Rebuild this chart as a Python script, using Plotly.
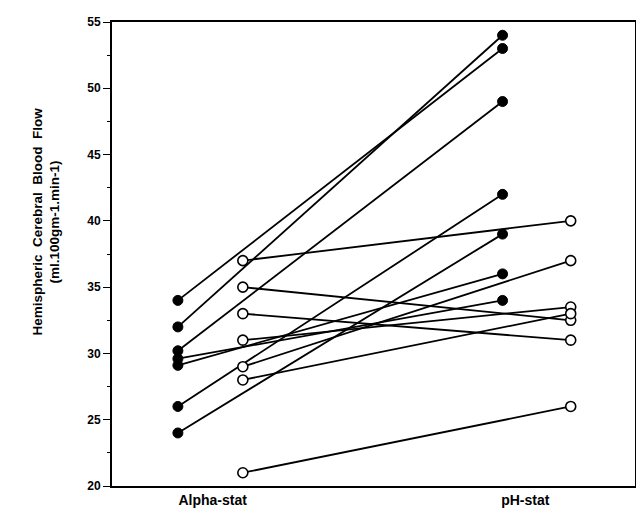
import plotly.graph_objects as go

# Data
filled_alpha = [34, 32, 30.2, 29.6, 29.1, 26, 24]
filled_ph = [53, 54, 49, 34, 36, 42, 39]
open_alpha = [37, 35, 33, 31, 29, 28, 21]
open_ph = [40, 32.5, 31, 33.5, 37, 33, 26]

category_labels = ["Alpha-stat", "pH-stat"]
y_ticks = [20, 25, 30, 35, 40, 45, 50, 55]

# horizontal placement of groups (style)
X_FA, X_OA, X_FP, X_OP = 1.0, 1.2, 2.0, 2.21
LABEL_POS = [1.107, 2.07]

fig = go.Figure()

# connecting lines
lx, ly = [], []
for a, p in zip(filled_alpha, filled_ph):
    lx += [X_FA, X_FP, None]
    ly += [a, p, None]
for a, p in zip(open_alpha, open_ph):
    lx += [X_OA, X_OP, None]
    ly += [a, p, None]
fig.add_trace(go.Scatter(x=lx, y=ly, mode="lines",
                         line=dict(color="black", width=1.8),
                         hoverinfo="skip", showlegend=False))

# filled markers
fig.add_trace(go.Scatter(
    x=[X_FA] * len(filled_alpha) + [X_FP] * len(filled_ph),
    y=filled_alpha + filled_ph, mode="markers",
    marker=dict(symbol="circle", size=10, color="black",
                line=dict(color="black", width=1)),
    showlegend=False))

# open markers
fig.add_trace(go.Scatter(
    x=[X_OA] * len(open_alpha) + [X_OP] * len(open_ph),
    y=open_alpha + open_ph, mode="markers",
    marker=dict(symbol="circle", size=10, color="white",
                line=dict(color="black", width=1.6)),
    showlegend=False))

bold = dict(family="Liberation Sans, Arial, sans-serif", color="black", weight="bold")

fig.update_layout(
    width=636, height=507,
    margin=dict(l=104, r=7, t=9, b=26),
    paper_bgcolor="white", plot_bgcolor="white",
    xaxis=dict(range=[0.797, 2.408], tickvals=LABEL_POS, ticktext=category_labels,
               showgrid=False, zeroline=False, showline=True, linecolor="black",
               linewidth=1.8, mirror=True, ticks="", ticklen=0,
               tickfont=dict(size=14, **bold)),
    yaxis=dict(range=[20, 55], tickvals=y_ticks, showgrid=False, zeroline=False,
               showline=True, linecolor="black", linewidth=1.8, mirror=True,
               ticks="outside", ticklen=7, tickwidth=1.2, tickcolor="black",
               tickfont=dict(size=12, **bold),
               minor=dict(dtick=2.5, ticks="outside", ticklen=3, tickcolor="black",
                          tickwidth=1, showgrid=False)),
    annotations=[dict(
        text="Hemispheric  Cerebral  Blood  Flow<br>(ml.100gm-1.min-1)",
        xref="paper", yref="paper", x=-0.126, y=0.57,
        xanchor="center", yanchor="middle", textangle=-90, showarrow=False,
        font=dict(size=13.5, **bold))],
)

fig.write_html("out.html")
